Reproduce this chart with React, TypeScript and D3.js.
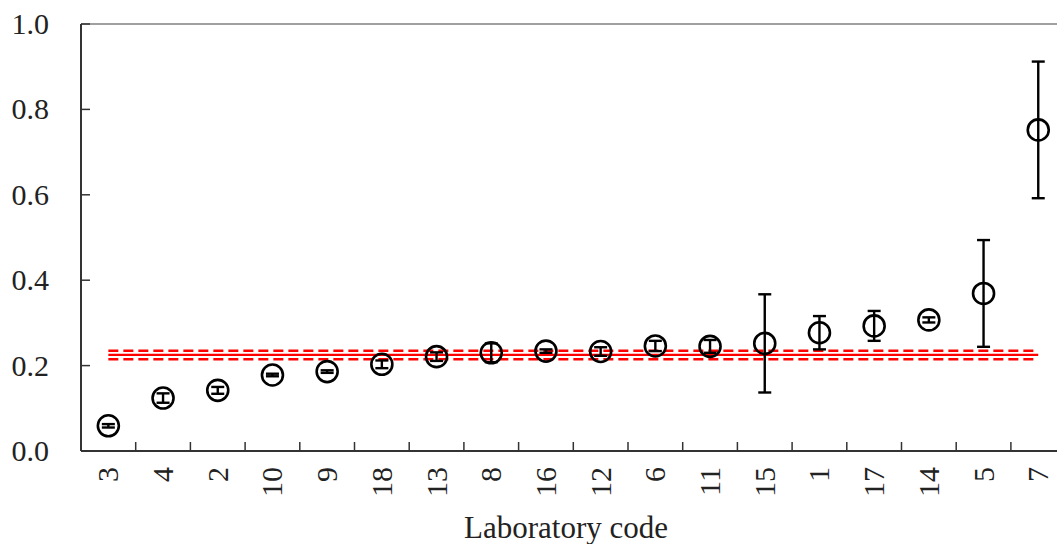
import React from "react";
import * as d3 from "d3";

const labs = ["3", "4", "2", "10", "9", "18", "13", "8", "16", "12", "6", "11", "15", "1", "17", "14", "5", "7"];
const means = [0.059, 0.124, 0.142, 0.178, 0.186, 0.203, 0.221, 0.230, 0.234, 0.233, 0.246, 0.245, 0.252, 0.277, 0.293, 0.307, 0.369, 0.752];
const errs = [0.004, 0.011, 0.008, 0.003, 0.003, 0.009, 0.01, 0.022, 0.004, 0.01, 0.012, 0.015, 0.115, 0.039, 0.035, 0.006, 0.125, 0.16];
const refMean = 0.225;
const refLow = 0.215;
const refHigh = 0.235;
const yTicks = [0, 0.2, 0.4, 0.6, 0.8, 1.0];

export default function App() {
  const W = 1057, H = 544;
  const left = 81, top = 24, bottom = 451;
  const x = d3.scaleBand<string>().domain(labs).range([left, left + 18 * 54.7]);
  const y = d3.scaleLinear().domain([0, 1]).range([bottom, top]);
  const cx = (l: string) => (x(l) as number) + x.bandwidth() / 2;
  const xs = [cx(labs[0]), cx(labs[labs.length - 1])];
  const font = "'Liberation Serif', 'Times New Roman', serif";
  return (
    <svg width={W} height={H} style={{ position: "absolute", left: 0, top: 0, background: "#fff" }} fontFamily={font}>
      <rect x={0} y={0} width={W} height={H} fill="#fff" />
      {/* frame */}
      <line x1={left} x2={W} y1={top} y2={top} stroke="#808080" strokeWidth={1.5} />
      <line x1={left} x2={left} y1={top} y2={bottom} stroke="#333" strokeWidth={2} />
      <line x1={left} x2={W} y1={bottom} y2={bottom} stroke="#333" strokeWidth={2} />
      {yTicks.map((t) => (
        <g key={t}>
          <line x1={left} x2={left + 9} y1={y(t)} y2={y(t)} stroke="#333" strokeWidth={1.5} />
          <text x={49} y={y(t)} dy="0.33em" textAnchor="end" fontSize={30} fill="#222">{t.toFixed(1)}</text>
        </g>
      ))}
      {labs.slice(1).map((l) => (
        <line key={l} x1={x(l)} x2={x(l)} y1={bottom} y2={bottom - 9} stroke="#333" strokeWidth={1.5} />
      ))}
      {labs.map((l) => (
        <text key={l} transform={`translate(${cx(l) + 10},${467}) rotate(-90)`} textAnchor="end" fontSize={30} fill="#222">{l}</text>
      ))}
      <text x={566} y={538} textAnchor="middle" fontSize={31} fill="#222">Laboratory code</text>
      {/* reference lines */}
      <line x1={xs[0]} x2={xs[1]} y1={y(refMean)} y2={y(refMean)} stroke="#ff0000" strokeWidth={2.2} />
      <line x1={xs[0]} x2={xs[1]} y1={y(refHigh)} y2={y(refHigh)} stroke="#ff0000" strokeWidth={2.5} strokeDasharray="10,5" />
      <line x1={xs[0]} x2={xs[1]} y1={y(refLow)} y2={y(refLow)} stroke="#ff0000" strokeWidth={2.5} strokeDasharray="10,5" />
      {/* points */}
      {labs.map((l, i) => {
        const px = cx(l);
        const y1 = y(means[i] + errs[i]);
        const y2 = y(means[i] - errs[i]);
        return (
          <g key={l}>
            <line x1={px} x2={px} y1={y1} y2={y2} stroke="#000" strokeWidth={2.4} />
            <line x1={px - 6.5} x2={px + 6.5} y1={y1} y2={y1} stroke="#000" strokeWidth={2.4} />
            <line x1={px - 6.5} x2={px + 6.5} y1={y2} y2={y2} stroke="#000" strokeWidth={2.4} />
            <circle cx={px} cy={y(means[i])} r={10.5} fill="none" stroke="#000" strokeWidth={2.6} />
          </g>
        );
      })}
    </svg>
  );
}
